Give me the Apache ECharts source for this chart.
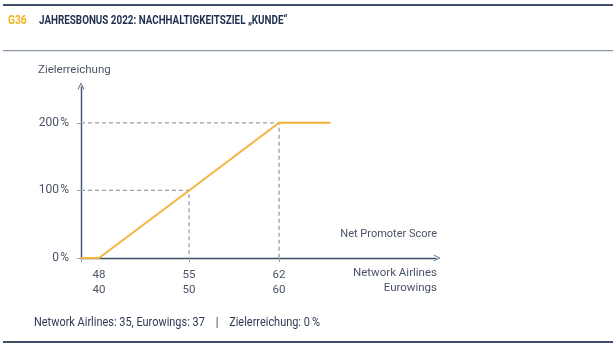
<!DOCTYPE html>
<html>
<head>
<meta charset="utf-8">
<style>
  html, body { margin: 0; padding: 0; background: #fff; }
  #chart { width: 613px; height: 346px; }
</style>
<script src="https://cdn.jsdelivr.net/npm/echarts@6/dist/echarts.min.js"></script>
</head>
<body>
<div id="chart"></div>
<script>
// Net Promoter Score thresholds (Network Airlines / Eurowings) and target achievement in %
const npsNetwork = [48, 55, 62];
const npsEurowings = [40, 50, 60];
const achievement = [0, 100, 200];
const yTicks = [0, 100, 200];
const xStart = 46.6;   // axis origin
const xCapEnd = 66;    // end of the capped 200 % plateau
const xEnd = 74.2;     // end of the x axis (arrow)
const yEnd = 253;

const axisColor = '#3d4f69';
const textColor = '#4a5466';
const guideColor = '#9a9ea6';
const lineColor = '#f3b335';
const font = 'Roboto, "Open Sans", sans-serif';

// achievement curve: flat at 0 up to the first threshold, linear to the cap, flat after
const curve = [[xStart, achievement[0]]]
  .concat(npsNetwork.map((v, i) => [v, achievement[i]]))
  .concat([[xCapEnd, achievement[2]]]);

// dashed guides from the y axis to each upper threshold and down to the x axis
const guides = npsNetwork.slice(1).map((v, i) => ({
  type: 'line',
  data: [[xStart, achievement[i + 1]], [v, achievement[i + 1]], [v, 0]],
  symbol: 'none',
  silent: true,
  lineStyle: { color: guideColor, width: 1.3, type: [4, 3] },
  z: 1
}));

const chevronUp = 'path://M0,10 L5,0 L10,10 L9,10.6 L5,2.4 L1,10.6 Z';

const chart = echarts.init(document.getElementById('chart'), null, { renderer: 'canvas' });
chart.setOption({
  animation: false,
  grid: { left: 81, top: 87, right: 177, bottom: 88 },
  xAxis: {
    type: 'value',
    min: xStart,
    max: xEnd,
    splitLine: { show: false },
    axisLine: {
      lineStyle: { color: axisColor, width: 1.4 },
      symbol: ['none', chevronUp],
      symbolSize: [11, 7],
      symbolOffset: [0, 1]
    },
    axisTick: { show: true, customValues: [xStart, 55, 62], length: 4, lineStyle: { color: guideColor } },
    axisLabel: {
      customValues: npsNetwork,
      formatter: v => v + '\n' + npsEurowings[npsNetwork.indexOf(v)],
      color: textColor,
      fontFamily: font,
      fontSize: 11.5,
      lineHeight: 15,
      margin: 10
    }
  },
  yAxis: {
    type: 'value',
    min: 0,
    max: yEnd,
    splitLine: { show: false },
    axisLine: {
      lineStyle: { color: axisColor, width: 1.4 },
      symbol: ['none', chevronUp],
      symbolSize: [11, 7],
      symbolOffset: [0, 1]
    },
    axisTick: { show: true, customValues: yTicks, length: 4, lineStyle: { color: guideColor } },
    axisLabel: {
      customValues: yTicks,
      formatter: v => v + '\u200A%',
      color: textColor,
      fontFamily: font,
      fontSize: 12,
      margin: 12
    }
  },
  series: guides.concat([{
    type: 'line',
    data: curve,
    symbol: 'none',
    lineStyle: { color: lineColor, width: 1.9 },
    z: 3
  }]),
  graphic: [
    { type: 'rect', shape: { x: 3, y: 4, width: 610, height: 2 }, style: { fill: '#3d4f69' } },
    { type: 'rect', shape: { x: 3, y: 50, width: 610, height: 1.2 }, style: { fill: '#8c97a6' } },
    { type: 'rect', shape: { x: 3, y: 341, width: 610, height: 2 }, style: { fill: '#3d4f69' } },
    { type: 'text', x: 8, y: 15, scaleX: 0.85, style: { text: 'G36', fill: '#f0b323', font: 'bold 12px ' + font } },
    { type: 'text', x: 39, y: 15, scaleX: 0.82, style: { text: 'JAHRESBONUS 2022: NACHHALTIGKEITSZIEL \u201EKUNDE\u201C', fill: '#1f2f4f', font: 'bold 12px ' + font } },
    { type: 'text', x: 38, y: 64, style: { text: 'Zielerreichung', fill: textColor, font: '11.5px ' + font } },
    { type: 'text', x: 437, y: 229, style: { text: 'Net Promoter Score', fill: textColor, font: '11px ' + font, align: 'right' } },
    { type: 'text', x: 437, y: 267, style: { text: 'Network Airlines', fill: textColor, font: '11.5px ' + font, align: 'right' } },
    { type: 'text', x: 437, y: 282, style: { text: 'Eurowings', fill: textColor, font: '11.5px ' + font, align: 'right' } },
    { type: 'text', x: 34, y: 316, scaleX: 0.875, style: { text: 'Network Airlines: 35, Eurowings: 37    |    Zielerreichung: 0\u2009%', fill: '#2e3b52', font: '12.5px ' + font } }
  ]
});
</script>
</body>
</html>
